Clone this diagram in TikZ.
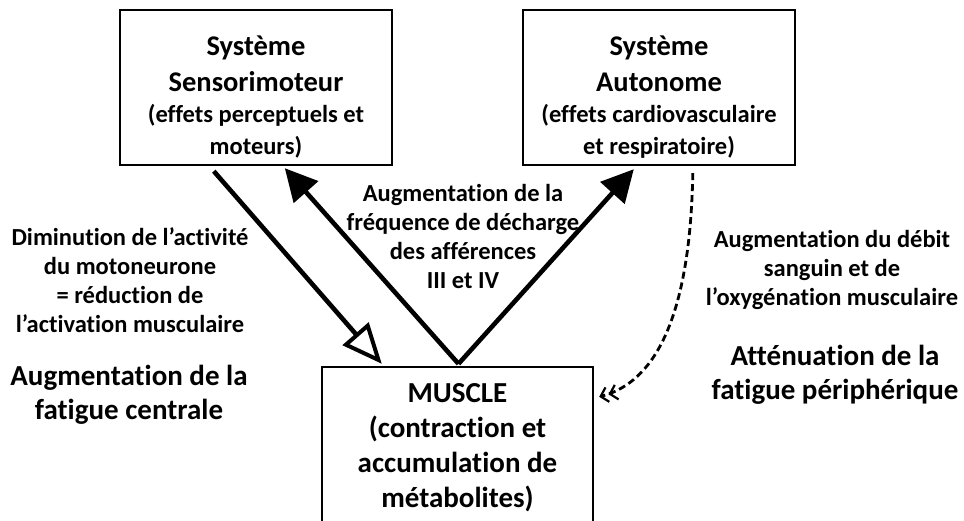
\documentclass[tikz,border=0pt]{standalone}
\usepackage{fontspec}
\setmainfont{Carlito}[Ligatures=NoCommon]
\usetikzlibrary{arrows.meta,calc}
\begin{document}
\begin{tikzpicture}[x=1pt,y=-1pt,
  box/.style={draw=black,line width=2.4pt,fill=white,inner sep=0pt,align=center},
  boxtext/.style={font=\bfseries\fontsize{28.5}{36}\selectfont,align=center,inner sep=0pt},
  smalltxt/.style={font=\bfseries\fontsize{24.5}{29}\selectfont,align=center},
  bigtxt/.style={font=\bfseries\fontsize{29}{34}\selectfont,align=center},
  thickarrow/.style={line width=4.6pt},
  closedtip/.style={-{Triangle[length=32pt,width=32pt]}},
  opentip/.style={-{Triangle[open,length=40pt,width=34pt,line width=4pt]}},
  dashedarrow/.style={line width=2.8pt,dash pattern=on 7pt off 4pt,
    -{Straight Barb[length=7pt,width=15pt,line width=2.2pt]Straight Barb[length=7pt,width=15pt,line width=2.2pt]}}
]
\useasboundingbox (0,0) rectangle (964,520);
\fill[white] (0,0) rectangle (964,520);

% boxes
\node[box,minimum width=272pt,minimum height=155pt,
  label={[boxtext,yshift=-10pt]center:Système\\Sensorimoteur\\[-5pt]\fontsize{24.5}{28}\selectfont (effets perceptuels et\\[-4pt]\fontsize{24.5}{28}\selectfont moteurs)}]
  (sens) at (256,87.5) {};
\node[box,minimum width=272pt,minimum height=155pt,
  label={[boxtext,yshift=-10pt]center:Système\\Autonome\\[-5pt]\fontsize{24.5}{28}\selectfont (effets cardiovasculaire\\[-4pt]\fontsize{24.5}{28}\selectfont et respiratoire)}]
  (auto) at (659,87.5) {};
\node[box,minimum width=271pt,minimum height=162pt,font=\bfseries\fontsize{29}{35}\selectfont] (muscle) at (457.5,448)
  {MUSCLE\\(contraction et\\accumulation de\\métabolites)};

% connector end points
\coordinate (s1) at ($(sens.south west)+(95,5)$);
\coordinate (m1) at ($(muscle.north west)+(61,-2)$);
\coordinate (m2) at ($(muscle.north)+(1,-2)$);
\coordinate (s2) at ($(sens.south west)+(166,2)$);
\coordinate (a1) at ($(auto.south west)+(112,3)$);
\coordinate (a2) at ($(auto.south west)+(171,7)$);
\coordinate (m3) at ($(muscle.north east)+(5,31)$);

\draw[thickarrow,opentip] (s1) -- (m1);
\draw[thickarrow,closedtip] (m2) -- (s2);
\draw[thickarrow,closedtip] (m2) -- (a1);
\draw[dashedarrow] (a2) .. controls ($(a2)+(-3,165)$) and ($(m3)+(45,-12)$) .. (m3);

% labels
\node[smalltxt] (lblcenter) at (463,236)
  {Augmentation de la\\fréquence de décharge\\des afférences\\III et IV};
\node[smalltxt] (lblleft) at (130,280)
  {Diminution de l’activité\\du motoneurone\\= réduction de\\l’activation musculaire};
\node[bigtxt] (lblleftbig) at (129,395)
  {Augmentation de la\\fatigue centrale};
\node[smalltxt] (lblright) at (832,270)
  {Augmentation du débit\\sanguin et de\\l’oxygénation musculaire};
\node[bigtxt] (lblrightbig) at (835,375)
  {Atténuation de la\\fatigue périphérique};
\end{tikzpicture}
\end{document}
